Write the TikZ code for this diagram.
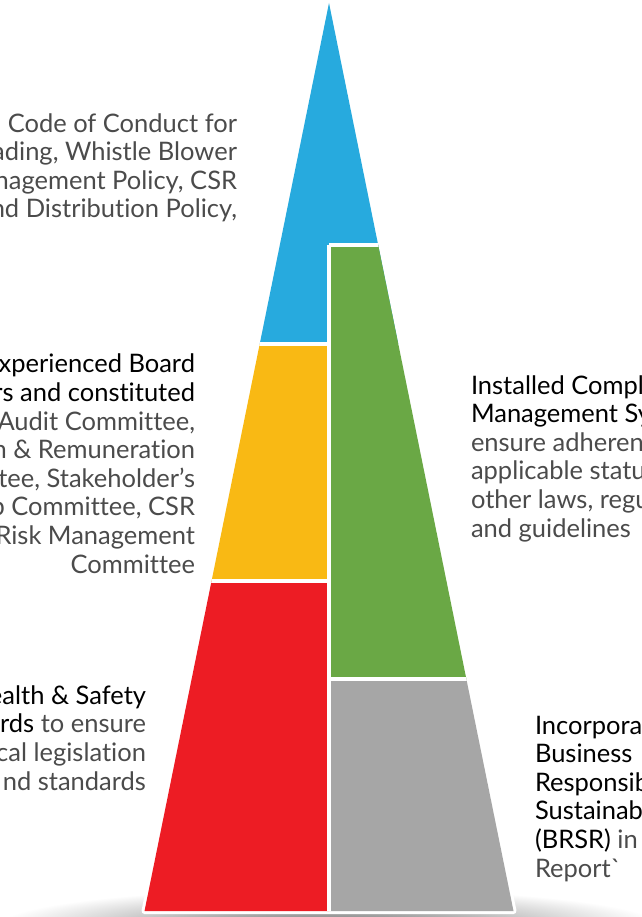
\documentclass[tikz,border=0pt]{standalone}
\usepackage{fontspec}
\setmainfont{Lato}[Ligatures={TeX,NoCommon}]
\usetikzlibrary{calc}
\definecolor{pblue}{RGB}{39,170,222}
\definecolor{pyellow}{RGB}{249,185,20}
\definecolor{pred}{RGB}{237,28,36}
\definecolor{pgreen}{RGB}{106,168,69}
\definecolor{pgray}{RGB}{166,166,166}
\definecolor{lighttxt}{RGB}{75,75,75}
\newcommand\darktxt[1]{\textcolor{black}{#1}}
\begin{document}
\begin{tikzpicture}[x=1pt,y=-1pt,
  every node/.style={inner sep=0pt,outer sep=0pt},
  txt/.style={font=\fontsize{25.5}{28.6}\selectfont, text=lighttxt},
  gap/.style={white, line width=3.5}]
\useasboundingbox (0,0) rectangle (641,917);
\coordinate (apex) at (329,3);
\coordinate (bl) at (144.5,911);
\coordinate (br) at (513.5,911);
\shade[inner color=black!55, outer color=white] (329,926) ellipse (332 and 38);
\filldraw[white, line width=6, line join=round] (apex) -- (bl) -- (br) -- cycle;
\begin{scope}
  \clip (apex) -- (bl) -- (br) -- cycle;
  \fill[pblue] (0,0) rectangle (641,344);
  \fill[pgreen] (329,245) rectangle (641,679);
  \fill[pgray] (329,679) rectangle (641,917);
  \fill[pyellow] (0,344) rectangle (329,581);
  \fill[pred] (0,581) rectangle (329,917);
  \draw[gap] (329,245) -- (641,245) (329,245) -- (329,917)
             (0,344) -- (329,344) (0,581) -- (329,581) (329,679) -- (641,679);
\end{scope}
\node[txt, anchor=base east, align=right] (t1) at (237,218)
  {Code of Conduct for\\ ading, Whistle Blower\\ nagement Policy, CSR\\ nd Distribution Policy,};
\node[txt, anchor=base east, align=right] (t2) at (195,573)
  {\darktxt{xperienced Board}\\ \darktxt{rs and constituted}\\ Audit Committee,\\ n \& Remuneration\\ tee, Stakeholder’s\\ p Committee, CSR\\ Risk Management\\ Committee};
\node[txt, anchor=base east, align=right] (t3) at (146,790)
  {\darktxt{ealth \& Safety}\\ \darktxt{rds} to ensure\\ cal legislation\\ nd standards};
\node[txt, anchor=base west, align=left] (t4) at (471,537)
  {\darktxt{Installed Compl}\\ \darktxt{Management Sy}\\ ensure adheren\\ applicable statu\\ other laws, regu\\ and guidelines};
\node[txt, anchor=base west, align=left] (t5) at (535,877)
  {\darktxt{Incorpora}\\ \darktxt{Business}\\ \darktxt{Responsib}\\ \darktxt{Sustainab}\\ \darktxt{(BRSR)} in\\ Report\textasciigrave};
\end{tikzpicture}
\end{document}
